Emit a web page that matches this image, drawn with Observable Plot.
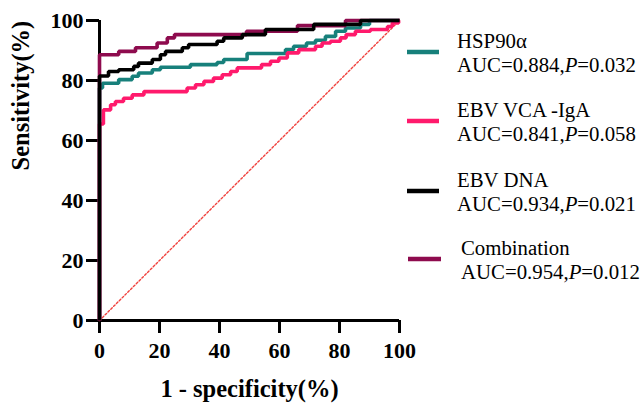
<!DOCTYPE html>
<html>
<head>
<meta charset="utf-8">
<script src="https://cdn.jsdelivr.net/npm/d3@7"></script>
<script src="https://cdn.jsdelivr.net/npm/@observablehq/plot@0.6"></script>
<style>
  html, body { margin: 0; padding: 0; background: #fff; }
</style>
</head>
<body>
<div id="chart"></div>
<script>
// ---- data ----
const seriesNames = ["HSP90α", "EBV VCA -IgA", "Combination", "EBV DNA"];
const seriesColors = ["#17807b", "#ff1a6c", "#8e0b4e", "#000000"];
const legendOrder = ["HSP90α", "EBV VCA -IgA", "EBV DNA", "Combination"];
const aucValues = ["0.884", "0.841", "0.934", "0.954"];
const pValues = ["0.032", "0.058", "0.021", "0.012"];

const hspFpr  = [0, 0, 1, 6.4, 10.9, 13, 17.6, 20.3, 30.3, 39.2, 41.4, 49.2, 62, 64.7, 69, 72, 75.3, 78.7, 82, 87, 90, 100];
const hspSens = [0, 77.5, 79.1, 80.3, 81.4, 82.5, 83.6, 84.4, 85.3, 86, 87, 89, 90.3, 91.4, 92.5, 93.4, 94.7, 96.4, 97.5, 98.7, 100, 100];

const vcaFpr  = [0, 0, 1.3, 3.7, 5.3, 8, 10.9, 14.8, 29.2, 32, 34.8, 38, 40.9, 43.7, 45.9, 54, 57, 59.8, 62.6, 66.4, 72, 74.2, 77, 80.3, 82.2, 85.3, 90.3, 96, 97.6, 99.7, 100];
const vcaSens = [0, 65.5, 70.2, 71.9, 73, 74.1, 75.2, 76.3, 77.5, 78.6, 79.7, 80.8, 81.9, 83, 84.2, 85.3, 86.4, 87.5, 89.2, 90.3, 91.4, 92.5, 93.1, 94.2, 95.3, 96.4, 97, 98, 99.2, 100, 100];

const comboFpr  = [0, 0, 6.4, 12, 19.2, 22.6, 25, 49, 66, 82, 100];
const comboSens = [0, 88.6, 89.7, 90.9, 92.5, 94.2, 95.3, 96.4, 98.3, 100, 100];

const dnaFpr  = [0, 0, 3, 6.4, 11.4, 13, 17.6, 20.3, 22, 27.6, 29.7, 39.2, 41.4, 47.6, 55.3, 71.4, 87, 100];
const dnaSens = [0, 81.5, 83, 83.6, 84.7, 85.8, 87, 88.6, 89.7, 90.9, 92, 93.1, 94.2, 95.3, 97, 98.7, 100, 100];

const xTicks = [0, 20, 40, 60, 80, 100];
const yTicks = [0, 20, 40, 60, 80, 100];
const diagonal = [0, 100];

// ---- build a long table ----
const curves = [
  [seriesNames[0], hspFpr, hspSens],
  [seriesNames[1], vcaFpr, vcaSens],
  [seriesNames[2], comboFpr, comboSens],
  [seriesNames[3], dnaFpr, dnaSens]
];
const rows = curves.flatMap(([name, xs, ys]) => xs.map((x, i) => ({series: name, fpr: x, sens: ys[i]})));
const diagRows = diagonal.map(v => ({fpr: v, sens: v}));

const font = "'Liberation Serif', 'Times New Roman', serif";

const chart = Plot.plot({
  width: 643,
  height: 405,
  marginLeft: 99,
  marginRight: 244,
  marginTop: 20,
  marginBottom: 85,
  style: {fontFamily: font, background: "#fff", color: "#000"},
  x: {domain: [0, 100]},
  y: {domain: [0, 100]},
  color: {domain: seriesNames, range: seriesColors},
  marks: [
    Plot.axisX({ticks: xTicks, tickSize: 13, tickPadding: 9, strokeWidth: 3, fontSize: 22, fontWeight: "bold", label: null, tickFormat: d => String(d)}),
    Plot.axisY({ticks: yTicks, tickSize: 13, tickPadding: 3, strokeWidth: 3, fontSize: 22, fontWeight: "bold", label: null, tickFormat: d => String(d)}),
    Plot.ruleX([0], {strokeWidth: 3}),
    Plot.ruleY([0], {strokeWidth: 3}),
    Plot.text(["1 - specificity(%)"], {frameAnchor: "bottom", dy: 69, fontSize: 24.5, fontWeight: "bold", lineAnchor: "middle"}),
    Plot.text(["Sensitivity(%)"], {frameAnchor: "left", dx: -78, rotate: -90, fontSize: 24.5, fontWeight: "bold", lineAnchor: "middle"}),
    Plot.line(diagRows, {x: "fpr", y: "sens", stroke: "#f0403c", strokeWidth: 1.4, strokeDasharray: "2,2"}),
    Plot.line(rows, {x: "fpr", y: "sens", z: "series", stroke: "series", curve: "step-after", strokeWidth: 3.6, strokeLinecap: "butt", strokeLinejoin: "miter"})
  ]
});

document.getElementById("chart").appendChild(chart);

// ---- legend (drawn in the SVG's right margin) ----
const svg = d3.select(chart);
const lg = svg.append("g")
  .attr("font-family", font).attr("font-size", 20.8).attr("fill", "#000")
  .attr("text-anchor", "start");
const legendY = [48, 117, 187, 255];
const legendTextX = [457, 457, 457, 461];
legendOrder.forEach((name, i) => {
  const color = seriesColors[seriesNames.indexOf(name)];
  const y0 = legendY[i];
  lg.append("line")
    .attr("x1", 407 + (i === 3 ? 1 : 0)).attr("x2", 439 + (i === 3 ? 2 : 0))
    .attr("y1", y0 + 4).attr("y2", y0 + 4)
    .attr("stroke", color).attr("stroke-width", 4.5);
  lg.append("text").attr("x", legendTextX[i]).attr("y", y0).attr("text-anchor", "start").text(name);
  const t = lg.append("text").attr("x", legendTextX[i]).attr("y", y0 + 23.5).attr("text-anchor", "start");
  t.append("tspan").text("AUC=" + aucValues[i] + ",");
  t.append("tspan").attr("font-style", "italic").text("P");
  t.append("tspan").text("=" + pValues[i]);
});
</script>
</body>
</html>
